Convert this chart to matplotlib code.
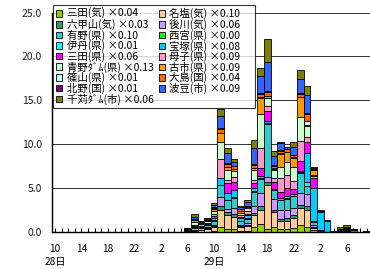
import numpy as np
import matplotlib
matplotlib.use("Agg")
import matplotlib.pyplot as plt
from matplotlib.patches import Patch
from matplotlib.ticker import MultipleLocator, FixedLocator

plt.rcParams['font.family'] = ['Noto Sans CJK JP', 'DejaVu Sans']

# hourly rainfall, 28日10時 .. 30日9時 (48 hours); first 20 hours dry
quiet = [0.0] * 20
hours = np.arange(48)
tick_pos = [0, 4, 8, 12, 16, 20, 24, 28, 32, 36, 40, 44]
tick_labels = ['10\n28日', '14', '18', '22', '2', '6', '10\n29日', '14', '18', '22', '2', '6']

# stacking order (bottom -> top)
names = ['三田(気) ×0.04', '名塩(気) ×0.10', '六甲山(気) ×0.03', '後川(気) ×0.06',
         '有野(県) ×0.10', '西宮(県) ×0.00', '伊丹(県) ×0.01', '宝塚(県) ×0.08',
         '三田(県) ×0.06', '母子(県) ×0.09', '青野ﾀﾞﾑ(県) ×0.13', '古市(県) ×0.09',
         '篠山(県) ×0.01', '大島(国) ×0.04', '北野(国) ×0.01', '波豆(市) ×0.09',
         '千苅ﾀﾞﾑ(市) ×0.06']
colors = ['#99CC00', '#FFCC99', '#339966', '#CC99FF', '#33CCCC', '#00FF00', '#00FFFF',
          '#00CCFF', '#FF00FF', '#FF99CC', '#CCFFCC', '#FF9900', '#CCFFFF', '#FF6600',
          '#800080', '#3366FF', '#808000']

sanda_k = quiet + [0.02, 0.05, 0.05, 0.05, 0.1, 0.6, 0.4, 0.4, 0.1, 0.15, 0.6, 0.9, 0.3, 0.6,
                   0.4, 0.4, 0.5, 0.8, 0.6, 0.2, 0.05, 0, 0, 0, 0, 0, 0, 0]
najio = quiet + [0.05, 0.1, 0.15, 0.35, 0.45, 1.9, 1.5, 1.3, 0.45, 0.5, 1.3, 1.6, 5.0, 1.7,
                 0.8, 0.9, 1.15, 1.9, 1.9, 0.3, 0.05, 0, 0, 0.1, 0.1, 0, 0, 0]
rokkosan = quiet + [0.03, 0.05, 0.05, 0.05, 0.1, 0.45, 0.35, 0.3, 0.1, 0.1, 0.3, 0.45, 0.4, 0.2,
                    0.3, 0.3, 0.3, 0.4, 0.5, 0.1, 0, 0, 0, 0, 0, 0.2, 0, 0]
shitsukawa = quiet + [0.05, 0.25, 0.2, 0.15, 0.2, 1.05, 0.4, 0.75, 0.2, 0.25, 0.75, 1.45, 0.6, 1.3,
                      1.0, 0.9, 0.8, 1.3, 1.3, 0.2, 0.05, 0, 0, 0, 0, 0, 0, 0]
arino = quiet + [0.05, 0.1, 0.1, 0.15, 0.45, 1.3, 0.95, 1.1, 0.35, 0.45, 1.6, 1.6, 6.0, 0.95,
                 1.1, 1.3, 1.3, 2.3, 0.95, 0.3, 0.1, 0.05, 0, 0.1, 0.15, 0.18, 0, 0.08]
nishinomiya = quiet + [0] * 28
itami = quiet + [0, 0, 0, 0, 0.1, 0.1, 0.1, 0.1, 0.1, 0.1, 0.1, 0.1, 0.1, 0.1,
                 0.1, 0.1, 0.1, 0.1, 0.5, 0.1, 0, 0, 0, 0, 0, 0, 0, 0]
takarazuka = quiet + [0.05, 0.1, 0.05, 0.1, 0.25, 0.7, 0.75, 0.85, 0.3, 0.35, 0.4, 0.3, 0.3, 0.1,
                      0.2, 0.2, 0.2, 0.2, 3.2, 3.8, 2.0, 1.2, 0, 0.1, 0.1, 0, 0, 0]
sanda_p = quiet + [0, 0.05, 0.1, 0.05, 0.15, 0.1, 1.1, 0.95, 0.15, 0.2, 0.5, 0.9, 1.1, 0.75,
                   0.7, 0.9, 0.5, 1.1, 1.3, 1.1, 0.05, 0, 0, 0, 0, 0, 0, 0]
boshi = quiet + [0.05, 0.1, 0.2, 0.1, 0.3, 2.1, 0.4, 0.55, 0.2, 0.35, 0.4, 2.3, 0.6, 0.5,
                 1.6, 1.5, 1.0, 2.3, 0.55, 0.25, 0, 0, 0, 0, 0, 0, 0, 0]
aono_dam = quiet + [0.05, 0.35, 0.1, 0.3, 0.3, 2.0, 1.1, 0.65, 0.2, 0.3, 1.1, 3.8, 0.9, 0.9,
                    1.2, 1.5, 1.5, 2.65, 1.3, 0.1, 0.05, 0, 0, 0, 0.1, 0, 0, 0]
furuichi = quiet + [0.05, 0.2, 0.05, 0.05, 0.25, 0.95, 0.35, 0.2, 0.3, 0.1, 0.2, 1.9, 0.15, 0.1,
                    1.5, 1.1, 1.1, 2.3, 0.1, 0.6, 0, 0, 0, 0, 0, 0, 0, 0]
sasayama = quiet + [0, 0, 0, 0, 0, 0.05, 0.05, 0.05, 0, 0, 0.05, 0.05, 0.05, 0.05,
                    0.05, 0.05, 0.05, 0.05, 0.5, 0.05, 0, 0, 0, 0, 0, 0, 0, 0]
oshima = quiet + [0, 0.1, 0.05, 0.05, 0.1, 0.45, 0.35, 0.3, 0.15, 0.1, 0.35, 0.4, 0.5, 0.3,
                  0.3, 0.25, 0.25, 0.35, 0.75, 0.1, 0, 0, 0, 0, 0, 0, 0, 0]
kitano = quiet + [0, 0.05, 0, 0, 0.05, 0.05, 0.05, 0.05, 0.05, 0.05, 0.05, 0.05, 0.05, 0.05,
                  0.05, 0.05, 0.05, 0.05, 0.05, 0.05, 0, 0, 0, 0, 0, 0, 0, 0]
hazu = quiet + [0.05, 0.2, 0.05, 0.1, 0.3, 1.4, 1.2, 0.4, 0.2, 0.45, 1.9, 2.0, 3.3, 1.05,
                0.8, 0.25, 0.9, 1.6, 2.05, 0.05, 0.05, 0.05, 0.05, 0.1, 0.11, 0, 0, 0]
sengari_dam = quiet + [0.05, 0.3, 0.05, 0.1, 0.2, 0.8, 0.55, 0.35, 0.15, 0.15, 0.9, 0.9, 2.65, 0.55,
                       0.1, 0, 0.6, 1.1, 1.05, 0.05, 0.1, 0.06, 0.05, 0.2, 0.2, 0, 0, 0]

series = [sanda_k, najio, rokkosan, shitsukawa, arino, nishinomiya, itami, takarazuka,
          sanda_p, boshi, aono_dam, furuichi, sasayama, oshima, kitano, hazu, sengari_dam]

fig = plt.figure(figsize=(3.7, 2.69), dpi=100)
ax = fig.add_axes([0.1405, 0.1375, 0.8595, 0.816])

bottom = np.zeros(len(hours))
for vals, col in zip(series, colors):
    vals = np.array(vals)
    ax.bar(hours, vals, width=1.0, bottom=bottom, color=col,
           edgecolor='black', linewidth=0.6, zorder=2)
    bottom += vals

ax.set_xlim(-0.45, 47.5)
ax.set_ylim(0, 25)
ax.yaxis.set_major_locator(MultipleLocator(5))
ax.yaxis.set_major_formatter(plt.FormatStrFormatter('%.1f'))
ax.grid(axis='y', color='#303030', linewidth=0.7, zorder=0)

ax.xaxis.set_major_locator(FixedLocator(tick_pos))
ax.set_xticklabels(tick_labels, linespacing=1.45)
ax.xaxis.set_minor_locator(MultipleLocator(1))
ax.tick_params(axis='x', which='both', direction='in', length=3, width=0.8,
               labelsize=7.3, pad=8.5)
ax.tick_params(axis='y', direction='in', length=0, labelsize=7.5, pad=7, labelcolor='#222222')

for s in ['top', 'right']:
    ax.spines[s].set_visible(False)
for s in ['left', 'bottom']:
    ax.spines[s].set_linewidth(1.0)

# legend: left column = even series, right column = odd series
order = list(range(0, 17, 2)) + list(range(1, 17, 2))
handles = [Patch(facecolor=colors[k], edgecolor='black', linewidth=0.6) for k in order]
labels = [names[k] if k % 2 == 0 else names[k] + '     ' for k in order]
leg = ax.legend(handles, labels, ncol=2, loc='upper left',
                bbox_to_anchor=(53 / 370, 264 / 269), bbox_transform=fig.transFigure,
                fontsize=7.5, frameon=True, fancybox=False, borderpad=0.3,
                labelspacing=-0.04, handlelength=0.6, handleheight=0.6,
                handletextpad=0.4, columnspacing=0.5, borderaxespad=0)
leg.get_frame().set_edgecolor('black')
leg.get_frame().set_linewidth(0.8)
leg.set_zorder(5)

fig.savefig('out.png', dpi=100)
